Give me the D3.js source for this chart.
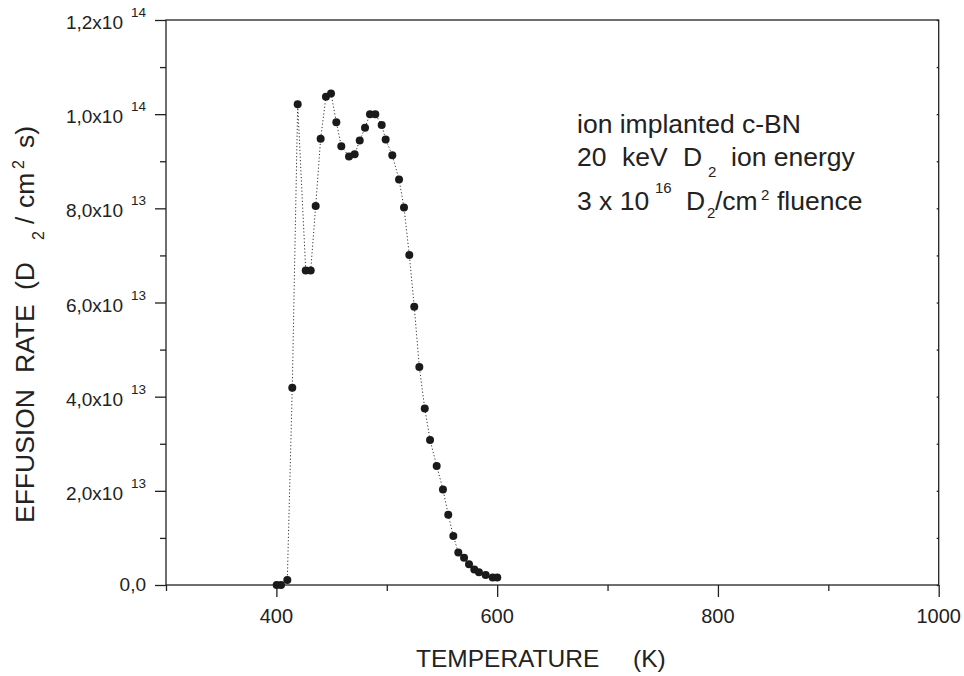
<!DOCTYPE html>
<html>
<head>
<meta charset="utf-8">
<script src="https://cdn.jsdelivr.net/npm/d3@7"></script>
<style>
  html, body { margin: 0; padding: 0; background: #fff; }
  svg text { font-family: "Liberation Sans", Arial, Helvetica, sans-serif; fill: #222; }
</style>
</head>
<body>
<svg id="chart" width="964" height="676"></svg>
<script>
// ---- data ----
const temperatureK = [400.3, 404.2, 409.9, 414.4, 419.3, 426.6, 431.1, 435.6, 440.1, 444.9,
  449.5, 454.3, 458.8, 465.8, 470.9, 475.5, 480.3, 484.8, 489.6, 495.4,
  499.0, 505.0, 511.1, 515.6, 520.4, 524.9, 529.5, 534.4, 539.2, 545.2,
  550.9, 555.7, 560.3, 564.8, 570.0, 574.5, 579.3, 583.5, 589.6, 596.0, 600.1];
const effusionRate = [0.0, 0.0, 0.106e13, 4.19e13, 10.21e13, 6.68e13, 6.68e13, 8.05e13, 9.48e13, 10.37e13,
  10.44e13, 9.83e13, 9.32e13, 9.10e13, 9.15e13, 9.44e13, 9.71e13, 10.0e13, 10.0e13, 9.77e13,
  9.46e13, 9.13e13, 8.61e13, 8.02e13, 7.01e13, 5.91e13, 4.63e13, 3.75e13, 3.08e13, 2.53e13,
  2.03e13, 1.49e13, 1.04e13, 0.69e13, 0.58e13, 0.44e13, 0.33e13, 0.27e13, 0.21e13, 0.16e13, 0.16e13];

const xDomain = [300, 1000];
const yDomain = [0, 1.2e14];
const xMajorTicks = [400, 600, 800, 1000];
const xMinorTicks = [300, 500, 700, 900];
const xTickLabels = ["400", "600", "800", "1000"];
const yMajorTicks = [0, 2e13, 4e13, 6e13, 8e13, 1e14, 1.2e14];
const yMinorTicks = [1e13, 3e13, 5e13, 7e13, 9e13, 1.1e14];
const yTickMantissa = ["0,0", "2,0x10", "4,0x10", "6,0x10", "8,0x10", "1,0x10", "1,2x10"];
const yTickExponent = ["", "13", "13", "13", "13", "14", "14"];

// ---- layout ----
const L = 166, R = 938.7, T = 20, B = 585;
const svg = d3.select("#chart");
const x = d3.scaleLinear().domain(xDomain).range([L, R]);
const y = d3.scaleLinear().domain(yDomain).range([B, T]);
const ink = "#222";

// frame
svg.append("rect").attr("x", L).attr("y", T).attr("width", R - L).attr("height", B - T)
  .attr("fill", "none").attr("stroke", ink).attr("stroke-width", 1.3);

// x axis ticks
const xAxisMajor = d3.axisBottom(x).tickValues(xMajorTicks).tickSize(12).tickFormat("");
const xAxisMinor = d3.axisBottom(x).tickValues(xMinorTicks).tickSize(6).tickFormat("");
[xAxisMajor, xAxisMinor].forEach(ax => {
  const g = svg.append("g").attr("transform", `translate(0,${B})`).call(ax);
  g.select(".domain").remove();
  g.selectAll("line").attr("stroke", ink).attr("stroke-width", 1.3);
});
svg.append("g").selectAll("text").data(xMajorTicks).join("text")
  .attr("x", d => x(d)).attr("y", B + 38).attr("text-anchor", "middle")
  .attr("font-size", 20).text((d, i) => xTickLabels[i]);

// y axis ticks
const yAxisMajor = d3.axisLeft(y).tickValues(yMajorTicks).tickSize(11).tickFormat("");
const yAxisMinor = d3.axisLeft(y).tickValues(yMinorTicks).tickSize(6).tickFormat("");
[yAxisMajor, yAxisMinor].forEach(ax => {
  const g = svg.append("g").attr("transform", `translate(${L},0)`).call(ax);
  g.select(".domain").remove();
  g.selectAll("line").attr("stroke", ink).attr("stroke-width", 1.3);
});
// tiny inward ticks on right border
const yAxisRight = d3.axisLeft(y).tickValues(yMajorTicks.concat(yMinorTicks)).tickSize(2).tickFormat("");
const gr = svg.append("g").attr("transform", `translate(${R},0)`).call(yAxisRight);
gr.select(".domain").remove();
gr.selectAll("line").attr("stroke", ink).attr("stroke-width", 1.3);

const yLab = svg.append("g").selectAll("text").data(yMajorTicks).join("text")
  .attr("x", 146).attr("y", d => y(d) + (d === 0 ? 6 : 9))
  .attr("text-anchor", "end").attr("font-size", 19);
yLab.append("tspan").text((d, i) => yTickMantissa[i]);
yLab.filter((d, i) => yTickExponent[i] !== "").append("tspan")
  .attr("dx", 8).attr("dy", -12).attr("font-size", 13.5)
  .text(d => yTickExponent[yMajorTicks.indexOf(d)]);

// data line (dotted) and points
const pts = temperatureK.map((t, i) => [t, effusionRate[i]]);
svg.append("path").datum(pts)
  .attr("d", d3.line().x(d => x(d[0])).y(d => y(d[1])))
  .attr("fill", "none").attr("stroke", "#333").attr("stroke-width", 1)
  .attr("stroke-dasharray", "1.2,2.2");
svg.append("g").selectAll("circle").data(pts).join("circle")
  .attr("cx", d => x(d[0])).attr("cy", d => y(d[1])).attr("r", 4).attr("fill", "#1a1a1a");

// helper: place text pieces at explicit positions
function pieces(parent, list, base) {
  list.forEach(p => {
    parent.append("text").attr("x", p.x).attr("y", p.y)
      .attr("font-size", p.s || base).text(p.t);
  });
}

// x axis title
pieces(svg.append("g"), [
  { t: "TEMPERATURE", x: 416, y: 667 },
  { t: "(K)", x: 633, y: 667 }
], 24.5);

// y axis title (rotated; x = -screenY of the piece's lower end, y = screen x of baseline)
const yt = svg.append("g").attr("transform", "rotate(-90)");
pieces(yt, [
  { t: "EFFUSION", x: -523, y: 34 },
  { t: "RATE", x: -373, y: 34 },
  { t: "(D", x: -290, y: 34 },
  { t: "2", x: -240, y: 44, s: 16 },
  { t: "/", x: -224, y: 34 },
  { t: "cm", x: -208, y: 34 },
  { t: "2", x: -169, y: 24, s: 16 },
  { t: "s)", x: -148, y: 34 }
], 26.5);

// annotation
pieces(svg.append("g"), [
  { t: "ion implanted c-BN", x: 577, y: 133 },
  { t: "20", x: 577, y: 166 },
  { t: "keV", x: 622, y: 166 },
  { t: "D", x: 683, y: 166 },
  { t: "2", x: 708, y: 177, s: 15 },
  { t: "ion energy", x: 731, y: 166 },
  { t: "3 x 10", x: 577, y: 210 },
  { t: "16", x: 655, y: 193, s: 15 },
  { t: "D", x: 686, y: 210 },
  { t: "2", x: 707, y: 218, s: 15 },
  { t: "/cm", x: 715, y: 210 },
  { t: "2", x: 761, y: 200, s: 15 },
  { t: "fluence", x: 777, y: 210 }
], 26.5);
</script>
</body>
</html>
